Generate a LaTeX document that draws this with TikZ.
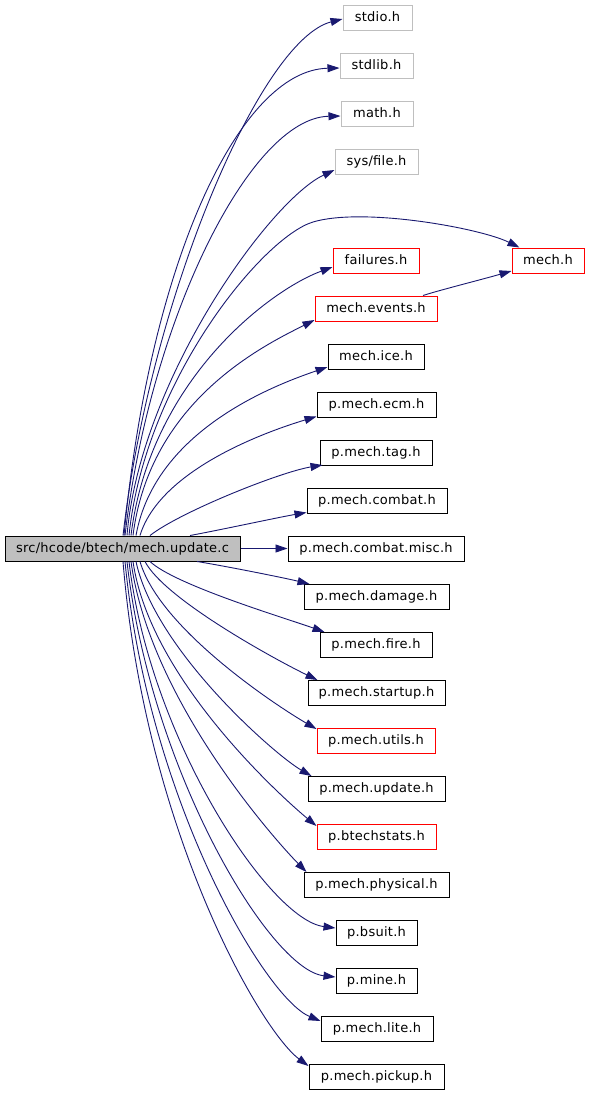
\documentclass[tikz,border=0pt]{standalone}
\usepackage{fontspec}
\newfontfamily\dv{DejaVu Sans}[LetterSpace=2]
\usetikzlibrary{arrows.meta,calc}
\definecolor{edgeblue}{HTML}{191970}
\definecolor{boxgray}{HTML}{BFBFBF}
\tikzset{
  box/.style={draw=black, line width=1pt, minimum height=25pt, inner sep=0pt,
    text height=10pt, text depth=2.5pt, font=\dv\fontsize{13pt}{15pt}\selectfont, text=black},
  sysbox/.style={box, draw=boxgray},
  redbox/.style={box, draw=red},
  mainbox/.style={box, fill=boxgray},
  edge/.style={draw=edgeblue, line width=0.9pt, -{Triangle[length=12pt,width=8pt]}}
}
\begin{document}
\begin{tikzpicture}[x=1pt,y=-1pt]
\useasboundingbox (0,0) rectangle (589,1093);
% nodes
\node[mainbox, minimum width=235pt] (main) at (122.5,548.5) {src/hcode/btech/mech.update.c};
\node[sysbox, minimum width=69pt] (stdio) at (377.5,17.5) {stdio.h};
\node[sysbox, minimum width=73pt] (stdlib) at (376.5,65.5) {stdlib.h};
\node[sysbox, minimum width=72pt] (math) at (377,113.5) {math.h};
\node[sysbox, minimum width=83pt] (sysfile) at (376.5,161.5) {sys/file.h};
\node[redbox, minimum width=72pt] (mech) at (548,260.5) {mech.h};
\node[redbox, minimum width=86pt] (failures) at (376,260.5) {failures.h};
\node[redbox, minimum width=122pt] (events) at (376,308.5) {mech.events.h};
\node[box, minimum width=96pt] (ice) at (376,356.5) {mech.ice.h};
\node[box, minimum width=119pt] (ecm) at (376.5,404.5) {p.mech.ecm.h};
\node[box, minimum width=112pt] (tag) at (376,452.5) {p.mech.tag.h};
\node[box, minimum width=140pt] (combat) at (377,500.5) {p.mech.combat.h};
\node[box, minimum width=176pt] (misc) at (376,548.5) {p.mech.combat.misc.h};
\node[box, minimum width=145pt] (damage) at (376.5,596.5) {p.mech.damage.h};
\node[box, minimum width=112pt] (fire) at (376,644.5) {p.mech.fire.h};
\node[box, minimum width=137pt] (startup) at (376.5,692.5) {p.mech.startup.h};
\node[redbox, minimum width=118pt] (utils) at (376,740.5) {p.mech.utils.h};
\node[box, minimum width=137pt] (update) at (376.5,788.5) {p.mech.update.h};
\node[redbox, minimum width=119pt] (btech) at (376.5,836.5) {p.btechstats.h};
\node[box, minimum width=145pt] (physical) at (376.5,884.5) {p.mech.physical.h};
\node[box, minimum width=81pt] (bsuit) at (376.5,932.5) {p.bsuit.h};
\node[box, minimum width=81pt] (mine) at (376.5,980.5) {p.mine.h};
\node[box, minimum width=112pt] (lite) at (377,1028.5) {p.mech.lite.h};
\node[box, minimum width=135pt] (pickup) at (376.5,1076.5) {p.mech.pickup.h};
% upward edges
\draw[edge] ($(main.north)+(0.5,0)$) .. controls (150,300) and (260,40) .. ($(stdio.west)+(0,1.5)$);
\draw[edge] ($(main.north)+(1.5,0)$) .. controls (150,260) and (240,70) .. ($(stdlib.west)+(0,2.5)$);
\draw[edge] ($(main.north)+(2.5,0)$) .. controls (150,320) and (250,118) .. ($(math.west)+(0,2.5)$);
\draw[edge] ($(main.north)+(4.5,0)$) .. controls (140,380) and (270,200) .. ($(sysfile.west)+(0,8.5)$);
\draw[edge] ($(main.north)+(6.5,0)$) .. controls (145,380) and (263,237) .. (313,222)
   .. controls (363,207) and (480,228) .. ($(mech.north west)+(8,0)$);
\draw[edge] ($(main.north)+(8.5,0)$) .. controls (150,380) and (270,290) .. ($(failures.west)+(0,6.5)$);
\draw[edge] ($(main.north)+(10.5,0)$) .. controls (150,400) and (265,345) .. ($(events.west)+(0,11.5)$);
\draw[edge] ($(main.north)+(13.5,0)$) .. controls (155,430) and (275,385) .. ($(ice.west)+(0,10.5)$);
\draw[edge] ($(main.north)+(17.5,0)$) .. controls (160,470) and (265,432) .. ($(ecm.west)+(0,12)$);
\draw[edge] ($(main.north)+(27.5,0)$) .. controls (180,512) and (280,472) .. ($(tag.west)+(3,12.5)$);
\draw[edge] ($(main.north)+(67.5,0)$) .. controls (220,530) and (280,517) .. ($(combat.west)+(0,12)$);
\draw[edge] (main.east) -- (misc.west);
% downward edges
\draw[edge] ($(main.south)+(74.5,0)$) .. controls (225,566) and (285,578) .. ($(damage.west)+(6,-12.5)$);
\draw[edge] ($(main.south)+(27.5,0)$) .. controls (175,585) and (285,618) .. ($(fire.west)+(5,-12.5)$);
\draw[edge] ($(main.south)+(22.5,0)$) .. controls (165,600) and (280,662) .. ($(startup.west)+(10,-12.5)$);
\draw[edge] ($(main.south)+(17.5,0)$) .. controls (160,630) and (280,708) .. ($(utils.west)+(0,-11.5)$);
\draw[edge] ($(main.south)+(13.5,0)$) .. controls (155,650) and (275,755) .. ($(update.west)+(4,-12.5)$);
\draw[edge] ($(main.south)+(10.5,0)$) .. controls (150,680) and (285,800) .. ($(btech.west)+(0,-10.5)$);
\draw[edge] ($(main.south)+(8.5,0)$) .. controls (150,700) and (275,840) .. ($(physical.west)+(3,-12.5)$);
\draw[edge] ($(main.south)+(6.5,0)$) .. controls (150,740) and (270,920) .. ($(bsuit.west)+(0,-4.5)$);
\draw[edge] ($(main.south)+(4.5,0)$) .. controls (150,770) and (270,970) .. ($(mine.west)+(0,-3.5)$);
\draw[edge] ($(main.south)+(2.5,0)$) .. controls (148,800) and (265,998) .. ($(lite.west)+(0,-7.5)$);
\draw[edge] ($(main.south)+(0.5,0)$) .. controls (145,830) and (260,1030) .. ($(pickup.west)+(0,-10.5)$);
% events -> mech.h
\draw[edge] ($(events.north)+(47,0)$) .. controls (440,290) and (480,280) .. ($(mech.west)+(0,10.5)$);
\end{tikzpicture}
\end{document}
